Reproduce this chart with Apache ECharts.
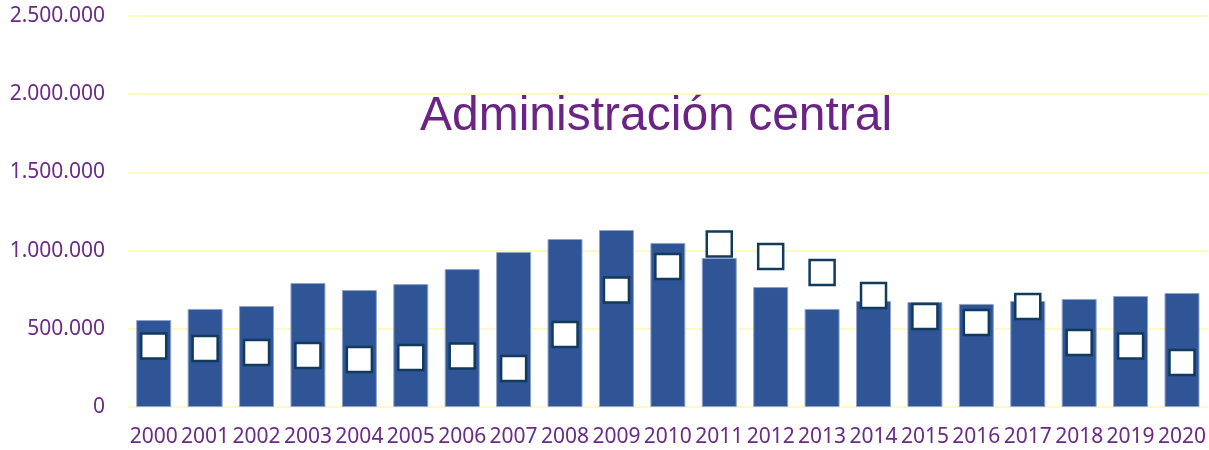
<!DOCTYPE html>
<html>
<head>
<meta charset="utf-8">
<script src="https://cdn.jsdelivr.net/npm/echarts@6/dist/echarts.min.js"></script>
<style>
html,body{margin:0;padding:0;background:#fff;}
#chart{width:1209px;height:450px;}
</style>
</head>
<body>
<div id="chart"></div>
<script>
const categories = ['2000','2001','2002','2003','2004','2005','2006','2007','2008','2009','2010','2011','2012','2013','2014','2015','2016','2017','2018','2019','2020'];
const barValues = [556000,627000,646000,793000,748000,786000,882000,991000,1074000,1132000,1049000,953000,767000,627000,678000,671000,659000,678000,691000,710000,729000];
const markerValues = [390000,374000,348000,329000,304000,317000,326000,246000,464000,748000,898000,1042000,962000,860000,713000,579000,540000,643000,412000,390000,285000];
const titleText = 'Administración central';

function fmt(v){
  return String(v).replace(/\B(?=(\d{3})+(?!\d))/g,'.');
}

const chart = echarts.init(document.getElementById('chart'));
chart.setOption({
  animation:false,
  backgroundColor:'#ffffff',
  grid:{left:128,right:0,top:16,bottom:43},
  xAxis:{
    type:'category',
    data:categories,
    axisLine:{show:false},
    axisTick:{show:false},
    axisLabel:{color:'#6a2a86',fontFamily:'Noto Sans',fontSize:21,margin:20,interval:0}
  },
  yAxis:{
    type:'value',
    min:0,max:2500000,interval:500000,
    axisLine:{show:false},
    axisTick:{show:false},
    splitLine:{lineStyle:{color:'#fbf7ae',width:1.5}},
    axisLabel:{color:'#6a2a86',fontFamily:'Noto Sans',fontSize:21,margin:23,formatter:fmt}
  },
  graphic:[{
    type:'text',
    left:420,top:93,
    style:{text:titleText,fill:'#6b2484',font:'48px "Liberation Sans"'}
  }],
  series:[
    {
      type:'bar',
      data:barValues,
      barCategoryGap:'32%',
      itemStyle:{color:'#2f5597',borderColor:'#8fa3c9',borderWidth:1}
    },
    {
      type:'scatter',
      data:markerValues,
      symbol:'rect',
      symbolSize:25,
      z:5,
      itemStyle:{color:'#ffffff',borderColor:'#113a5c',borderWidth:2.5,opacity:1}
    }
  ]
});
</script>
</body>
</html>
